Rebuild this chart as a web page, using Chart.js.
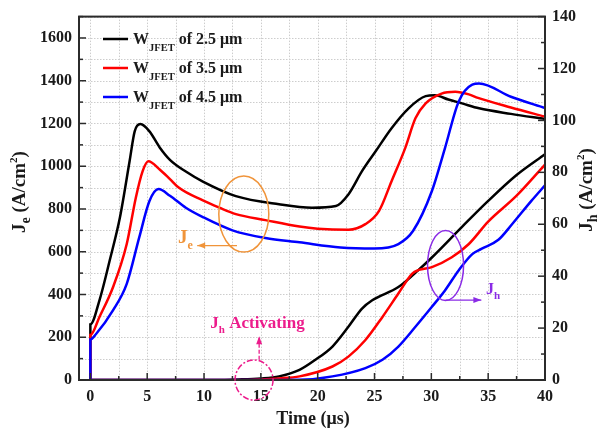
<!DOCTYPE html>
<html>
<head>
<meta charset="utf-8">
<script src="https://cdn.jsdelivr.net/npm/chart.js@4.4.1/dist/chart.umd.min.js"></script>
<style>
  html, body { margin: 0; padding: 0; background: #fff; }
  canvas { display: block; }
</style>
</head>
<body>
<canvas id="jChart" width="607" height="435"></canvas>
<script>
// tick labels
const xTickLabels = [0, 5, 10, 15, 20, 25, 30, 35, 40];
const jeTickLabels = [0, 200, 400, 600, 800, 1000, 1200, 1400, 1600];
const jhTickLabels = [0, 20, 40, 60, 80, 100, 120, 140];

// legend entries (W_JFET widths)
const widths = ['2.5', '3.5', '4.5'];
const colors = ['#000000', '#ff0000', '#0000ff'];

// J_e (left axis, A/cm2) vs time (us)
const jeTime25 = [0, 0, 0.8, 1.7, 2.6, 3.45, 3.9, 4.4, 5.2, 6.1, 7, 8.4, 9.9, 12.8, 16.6, 19.5, 21.6, 22.7, 23.9, 25.1, 26.5, 28, 29.5, 30.3, 31.5, 32.7, 34.2, 37, 40];
const je25 = [0, 260, 373, 559, 760, 1023, 1163, 1197, 1163, 1088, 1030, 975, 928, 860, 822, 806, 814, 868, 977, 1070, 1178, 1271, 1328, 1332, 1312, 1294, 1271, 1245, 1221];
const jeTime35 = [0, 0, 0.8, 2, 3.2, 4, 4.6, 5.1, 6.1, 7, 7.8, 9.9, 11.35, 12.8, 15.4, 18.4, 20, 22.7, 24.2, 25.4, 26.5, 27.7, 28.6, 29.5, 30.9, 32.1, 33.3, 34.1, 37, 40];
const je35 = [0, 210, 295, 435, 636, 853, 977, 1023, 985, 940, 899, 840, 806, 776, 748, 718, 708, 703, 729, 791, 930, 1085, 1224, 1294, 1340, 1348, 1336, 1320, 1275, 1232];
const jeTime45 = [0, 0, 0.5, 2, 3.2, 4.3, 5.2, 6, 7, 8.4, 9.9, 12.5, 15.4, 18.4, 22, 25, 27.1, 28.4, 30.05, 31.2, 32.4, 33.6, 34.2, 37, 40];
const je45 = [0, 190, 215, 327, 450, 667, 837, 893, 862, 806, 762, 700, 664, 644, 620, 615, 636, 698, 884, 1085, 1302, 1382, 1387, 1325, 1272];

// J_h (right axis, A/cm2) vs time (us)
const jhTime25 = [0, 11, 13, 15, 16.6, 18.4, 19.8, 21.3, 22.7, 23.9, 24.8, 27.1, 28.9, 30, 32.7, 35, 37.5, 40];
const jh25 = [0, 0, 0.2, 0.6, 1.4, 3.9, 7.8, 12.9, 20.5, 27.5, 30.7, 35.8, 42.5, 47, 59, 69, 79, 87];
const jhTime35 = [0, 13, 15, 16.6, 18.4, 21.3, 22.7, 24.2, 25.7, 27.1, 28.3, 28.9, 30.05, 31.8, 33.3, 35, 37.5, 40];
const jh35 = [0, 0, 0.2, 0.6, 1.4, 5.2, 9, 15.4, 24.3, 33.3, 40.9, 42.4, 43.5, 47.3, 52.4, 61, 71, 83];
const jhTime45 = [0, 15, 18.4, 21.3, 24.2, 25.7, 27.1, 28.6, 30.05, 31.2, 32.4, 33.6, 34.4, 35.9, 37.1, 38.8, 40];
const jh45 = [0, 0, 0.1, 1.4, 4.6, 7.8, 12.9, 20.5, 28.2, 34.5, 42.2, 48.5, 50.5, 54, 60, 69, 75];

const axisColor = '#2b2b2b';
const serif = '"Liberation Serif", "Times New Roman", serif';

Chart.defaults.font.family = serif;
Chart.defaults.font.weight = 'bold';
Chart.defaults.font.size = 16;
Chart.defaults.color = '#1a1a1a';

const pts = (xs, ys) => xs.map((x, i) => ({ x: x, y: ys[i] }));

// major labels plus half-step minor ticks, up to max
function withMinor(labels, max) {
  const step = labels[1] - labels[0];
  const out = [];
  for (let v = labels[0]; v <= max + 1e-9; v += step / 2) out.push(+v.toFixed(4));
  return out;
}

function lineSet(data, color, axis, order) {
  return {
    data: data,
    borderColor: color,
    borderWidth: 2.5,
    pointRadius: 0,
    fill: false,
    cubicInterpolationMode: 'monotone',
    yAxisID: axis,
    order: order
  };
}

const jeSets = [pts(jeTime25, je25), pts(jeTime35, je35), pts(jeTime45, je45)];
const jhSets = [pts(jhTime25, jh25), pts(jhTime35, jh35), pts(jhTime45, jh45)];
const datasets = [];
jeSets.forEach((d, i) => datasets.push(lineSet(d, colors[i], 'y', 2 - i)));
jhSets.forEach((d, i) => datasets.push(lineSet(d, colors[i], 'y2', 2 - i)));

// draws mixed-size text (subscripts / superscripts)
function richWidth(ctx, parts) {
  let w = 0;
  parts.forEach(p => { ctx.font = 'bold ' + p.s + 'px ' + serif; w += ctx.measureText(p.t).width; });
  return w;
}
function drawRich(ctx, parts, x, y, center) {
  let cx = center ? x - richWidth(ctx, parts) / 2 : x;
  parts.forEach(p => {
    ctx.font = 'bold ' + p.s + 'px ' + serif;
    ctx.fillText(p.t, cx, y + (p.dy || 0));
    cx += ctx.measureText(p.t).width;
  });
}
function arrow(ctx, x1, y1, x2, y2, color) {
  const ang = Math.atan2(y2 - y1, x2 - x1);
  ctx.strokeStyle = color; ctx.fillStyle = color; ctx.lineWidth = 1.3;
  ctx.beginPath(); ctx.moveTo(x1, y1); ctx.lineTo(x2, y2); ctx.stroke();
  ctx.setLineDash([]);
  ctx.beginPath();
  ctx.moveTo(x2, y2);
  ctx.lineTo(x2 - 8 * Math.cos(ang) + 3 * Math.sin(ang), y2 - 8 * Math.sin(ang) - 3 * Math.cos(ang));
  ctx.lineTo(x2 - 8 * Math.cos(ang) - 3 * Math.sin(ang), y2 - 8 * Math.sin(ang) + 3 * Math.cos(ang));
  ctx.closePath(); ctx.fill();
}

// dotted grid at every (major + minor) tick
const dottedGrid = {
  id: 'dottedGrid',
  beforeDatasetsDraw(chart) {
    const ctx = chart.ctx, a = chart.chartArea;
    ctx.save();
    ctx.strokeStyle = '#cdcdcd'; ctx.lineWidth = 1;
    ctx.setLineDash([1.5, 1.5]);
    chart.scales.x.ticks.forEach(t => {
      const p = Math.round(chart.scales.x.getPixelForValue(t.value)) + 0.5;
      ctx.beginPath(); ctx.moveTo(p, a.top); ctx.lineTo(p, a.bottom); ctx.stroke();
    });
    chart.scales.y.ticks.forEach(t => {
      const p = Math.round(chart.scales.y.getPixelForValue(t.value)) + 0.5;
      ctx.beginPath(); ctx.moveTo(a.left, p); ctx.lineTo(a.right, p); ctx.stroke();
    });
    ctx.restore();
  }
};

const decorations = {
  id: 'decorations',
  afterDraw(chart) {
    const ctx = chart.ctx, a = chart.chartArea;
    const sx = chart.scales.x, sy = chart.scales.y, sy2 = chart.scales.y2;
    ctx.save();

    // frame
    ctx.strokeStyle = axisColor; ctx.lineWidth = 2;
    ctx.strokeRect(a.left, a.top, a.right - a.left, a.bottom - a.top);

    // inward tick marks
    const marks = (scale, majors, side) => {
      scale.ticks.forEach(t => {
        const p = scale.getPixelForValue(t.value);
        const len = majors.includes(t.value) ? 7 : 4;
        ctx.beginPath();
        if (side === 'bottom') { ctx.moveTo(p, a.bottom); ctx.lineTo(p, a.bottom - len); }
        else if (side === 'left') { ctx.moveTo(a.left, p); ctx.lineTo(a.left + len, p); }
        else { ctx.moveTo(a.right, p); ctx.lineTo(a.right - len, p); }
        ctx.stroke();
      });
    };
    ctx.lineWidth = 1.5;
    marks(sx, xTickLabels, 'bottom');
    marks(sy, jeTickLabels, 'left');
    marks(sy2, jhTickLabels, 'right');

    // axis titles
    ctx.fillStyle = '#1a1a1a';
    ctx.textBaseline = 'alphabetic';
    drawRich(ctx, [{ t: 'Time (\u03bcs)', s: 18 }], (a.left + a.right) / 2 + 1, 424, true);
    const unit = [{ t: ' (A/cm', s: 19 }, { t: '2', s: 11, dy: -8 }, { t: ')', s: 19 }];
    ctx.save();
    ctx.translate(25, 192); ctx.rotate(-Math.PI / 2);
    drawRich(ctx, [{ t: 'J', s: 19 }, { t: 'e', s: 14, dy: 5 }].concat(unit), 0, 0, true);
    ctx.restore();
    ctx.save();
    ctx.translate(592, 190); ctx.rotate(-Math.PI / 2);
    drawRich(ctx, [{ t: 'J', s: 19 }, { t: 'h', s: 14, dy: 5 }].concat(unit), 0, 0, true);
    ctx.restore();

    // legend
    widths.forEach((w, i) => {
      const y = 39 + i * 29;
      ctx.strokeStyle = colors[i]; ctx.lineWidth = 2.5;
      ctx.beginPath(); ctx.moveTo(103, y); ctx.lineTo(128, y); ctx.stroke();
      ctx.fillStyle = '#1a1a1a';
      drawRich(ctx, [{ t: 'W', s: 16 }, { t: 'JFET', s: 10.5, dy: 6.5 }, { t: ' of ' + w + ' \u03bcm', s: 16 }], 133, y + 5, false);
    });

    // J_e annotation (orange)
    const orange = '#f0943a';
    ctx.strokeStyle = orange; ctx.lineWidth = 1.5;
    ctx.beginPath();
    ctx.ellipse(sx.getPixelForValue(13.5), sy.getPixelForValue(776), 25, 38, 0, 0, Math.PI * 2);
    ctx.stroke();
    arrow(ctx, sx.getPixelForValue(12.9), sy.getPixelForValue(629), sx.getPixelForValue(9.4), sy.getPixelForValue(629), orange);
    ctx.fillStyle = orange;
    drawRich(ctx, [{ t: 'J', s: 19 }, { t: 'e', s: 12, dy: 6 }], sx.getPixelForValue(7.7), sy.getPixelForValue(642), false);

    // J_h annotation (purple)
    const purple = '#8a2be6';
    ctx.strokeStyle = purple; ctx.lineWidth = 1.5;
    ctx.beginPath();
    ctx.ellipse(sx.getPixelForValue(31.25), sy2.getPixelForValue(44.1), 18, 35, 0, 0, Math.PI * 2);
    ctx.stroke();
    arrow(ctx, sx.getPixelForValue(31.25), sy2.getPixelForValue(30.8), sx.getPixelForValue(34.4), sy2.getPixelForValue(30.8), purple);
    ctx.fillStyle = purple;
    drawRich(ctx, [{ t: 'J', s: 16 }, { t: 'h', s: 11, dy: 5 }], sx.getPixelForValue(34.8), sy2.getPixelForValue(33.3), false);

    // J_h activating (pink, dash-dot)
    const pink = '#ec1c8c';
    ctx.strokeStyle = pink; ctx.lineWidth = 1.5;
    ctx.setLineDash([6, 2, 2, 2]);
    ctx.beginPath();
    ctx.ellipse(sx.getPixelForValue(14.4), sy.getPixelForValue(0), 19, 20, 0, 0, Math.PI * 2);
    ctx.stroke();
    ctx.setLineDash([4, 2]);
    arrow(ctx, sx.getPixelForValue(14.85), sy.getPixelForValue(95), sx.getPixelForValue(14.85), sy.getPixelForValue(205), pink);
    ctx.setLineDash([]);
    ctx.fillStyle = pink;
    drawRich(ctx, [{ t: 'J', s: 17 }, { t: 'h', s: 11, dy: 5 }, { t: ' Activating', s: 17 }], sx.getPixelForValue(10.55), sy.getPixelForValue(243), false);

    ctx.restore();
  }
};

const noGrid = { drawOnChartArea: false, drawTicks: false };
const border = { color: axisColor, width: 2 };

new Chart(document.getElementById('jChart'), {
  type: 'line',
  data: { datasets: datasets },
  options: {
    responsive: false,
    animation: false,
    layout: { padding: { top: 14, left: 0, right: 0, bottom: 0 } },
    plugins: { legend: { display: false }, tooltip: { enabled: false } },
    scales: {
      x: {
        type: 'linear', min: -1, max: 40,
        afterBuildTicks: s => { s.ticks = withMinor(xTickLabels, 40).map(v => ({ value: v })); },
        afterFit: s => { s.height = 55; },
        ticks: { autoSkip: false, maxRotation: 0, padding: 7,
          callback: v => xTickLabels.includes(v) ? String(v) : '' },
        grid: noGrid, border: border
      },
      y: {
        position: 'left', min: 0, max: 1700,
        afterBuildTicks: s => { s.ticks = withMinor(jeTickLabels, 1700).map(v => ({ value: v })); },
        afterFit: s => { s.width = 79; },
        ticks: { autoSkip: false, padding: 7,
          callback: v => jeTickLabels.includes(v) ? String(v) : '' },
        grid: noGrid, border: border
      },
      y2: {
        position: 'right', min: 0, max: 140,
        afterBuildTicks: s => { s.ticks = withMinor(jhTickLabels, 140).map(v => ({ value: v })); },
        afterFit: s => { s.width = 62; },
        ticks: { autoSkip: false, padding: 7,
          callback: v => jhTickLabels.includes(v) ? String(v) : '' },
        grid: noGrid, border: border
      }
    }
  },
  plugins: [dottedGrid, decorations]
});
</script>
</body>
</html>
